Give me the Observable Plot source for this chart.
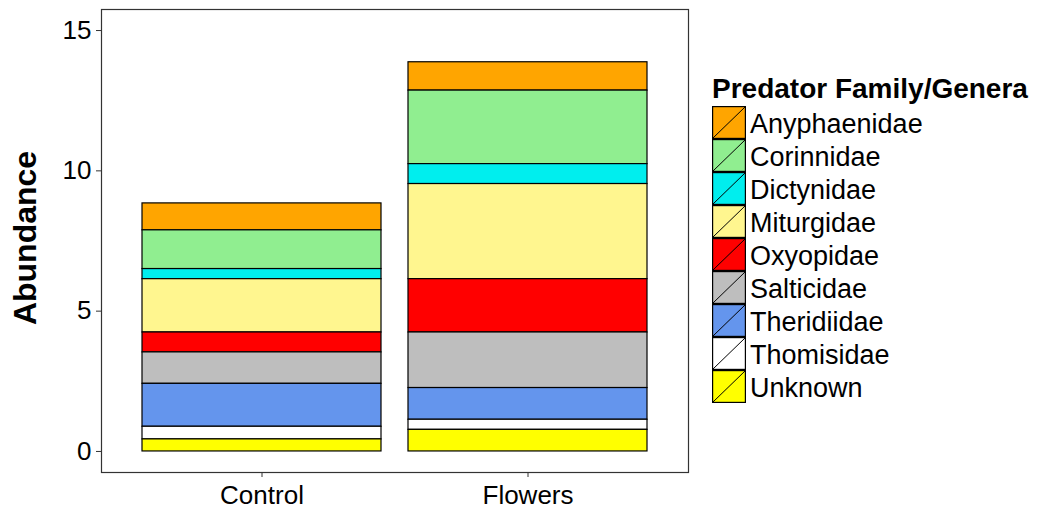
<!DOCTYPE html>
<html>
<head>
<meta charset="utf-8">
<script src="https://cdn.jsdelivr.net/npm/d3@7"></script>
<script src="https://cdn.jsdelivr.net/npm/@observablehq/plot@0.6"></script>
<style>
  html, body { margin: 0; padding: 0; background: #fff; }
  #wrap { position: relative; width: 1039px; height: 511px; font-family: "Liberation Sans", Arial, sans-serif; }
  #chart { position: absolute; left: 0; top: 0; }
  #ylab { position: absolute; left: 25px; top: 238px; transform: translate(-50%, -50%) rotate(-90deg); font-weight: bold; font-size: 32px; white-space: nowrap; color: #000; }
  #legend { position: absolute; left: 712px; top: 75px; color: #000; }
  #legend .title { font-weight: bold; font-size: 28px; line-height: 27px; height: 31px; white-space: nowrap; }
  #legend .row { display: flex; align-items: flex-start; height: 33px; }
  #legend .row svg { display: block; }
  #legend .row span { font-size: 27px; line-height: 33px; padding-left: 4px; white-space: nowrap; position: relative; top: 2px; }
</style>
</head>
<body>
<div id="wrap">
  <div id="chart"></div>
  <div id="ylab">Abundance</div>
  <div id="legend"></div>
</div>
<script>
const groups = ["Control", "Flowers"];
const families = ["Anyphaenidae", "Corinnidae", "Dictynidae", "Miturgidae", "Oxyopidae", "Salticidae", "Theridiidae", "Thomisidae", "Unknown"];
const controlValues = [0.96, 1.38, 0.36, 1.90, 0.71, 1.12, 1.53, 0.45, 0.43];
const flowersValues = [1.01, 2.62, 0.71, 3.39, 1.90, 1.98, 1.13, 0.36, 0.77];
const familyColors = ["#FFA500", "#90EE90", "#00EEEE", "#FFF68F", "#FF0000", "#BEBEBE", "#6495ED", "#FFFFFF", "#FFFF00"];
const yTicks = [0, 5, 10, 15];
const legendTitle = "Predator Family/Genera";
const yTitle = "Abundance";

const data = [];
families.forEach((f, i) => {
  data.push({group: groups[0], family: f, value: controlValues[i]});
  data.push({group: groups[1], family: f, value: flowersValues[i]});
});

const plot = Plot.plot({
  width: 700,
  height: 511,
  marginLeft: 101,
  marginRight: 12,
  marginTop: 9,
  marginBottom: 39,
  style: {fontFamily: "'Liberation Sans', Arial, sans-serif", color: "#000", background: "transparent"},
  x: {domain: groups, paddingInner: 0.1, paddingOuter: 0.15, label: null},
  y: {domain: [-0.75, 15.75], label: null},
  color: {domain: families, range: familyColors},
  marks: [
    Plot.barY(data, {
      x: "group", y: "value", fill: "family",
      order: families.slice().reverse(),
      stroke: "#000", strokeWidth: 1.2
    }),
    Plot.frame({stroke: "#333", strokeWidth: 1.2}),
    Plot.axisY({ticks: yTicks, tickSize: 5, tickPadding: 5, fontSize: 26, label: null, stroke: "#333"}),
    Plot.axisX({tickSize: 5, tickPadding: 8, fontSize: 26, label: null, stroke: "#333"})
  ]
});
document.getElementById("chart").appendChild(plot);
document.getElementById("ylab").textContent = yTitle;

const legend = document.getElementById("legend");
const t = document.createElement("div");
t.className = "title";
t.textContent = legendTitle;
legend.appendChild(t);
const ns = "http://www.w3.org/2000/svg";
families.forEach((f, i) => {
  const row = document.createElement("div");
  row.className = "row";
  const s = document.createElementNS(ns, "svg");
  s.setAttribute("width", 34);
  s.setAttribute("height", 33);
  const r = document.createElementNS(ns, "rect");
  r.setAttribute("x", 0.6); r.setAttribute("y", 0.6);
  r.setAttribute("width", 32.8); r.setAttribute("height", 31.8);
  r.setAttribute("fill", familyColors[i]);
  r.setAttribute("stroke", "#000"); r.setAttribute("stroke-width", 1.2);
  const l = document.createElementNS(ns, "line");
  l.setAttribute("x1", 1); l.setAttribute("y1", 32);
  l.setAttribute("x2", 33); l.setAttribute("y2", 1);
  l.setAttribute("stroke", "#000"); l.setAttribute("stroke-width", 1);
  s.appendChild(r); s.appendChild(l);
  const sp = document.createElement("span");
  sp.textContent = f;
  row.appendChild(s); row.appendChild(sp);
  legend.appendChild(row);
});
</script>
</body>
</html>
